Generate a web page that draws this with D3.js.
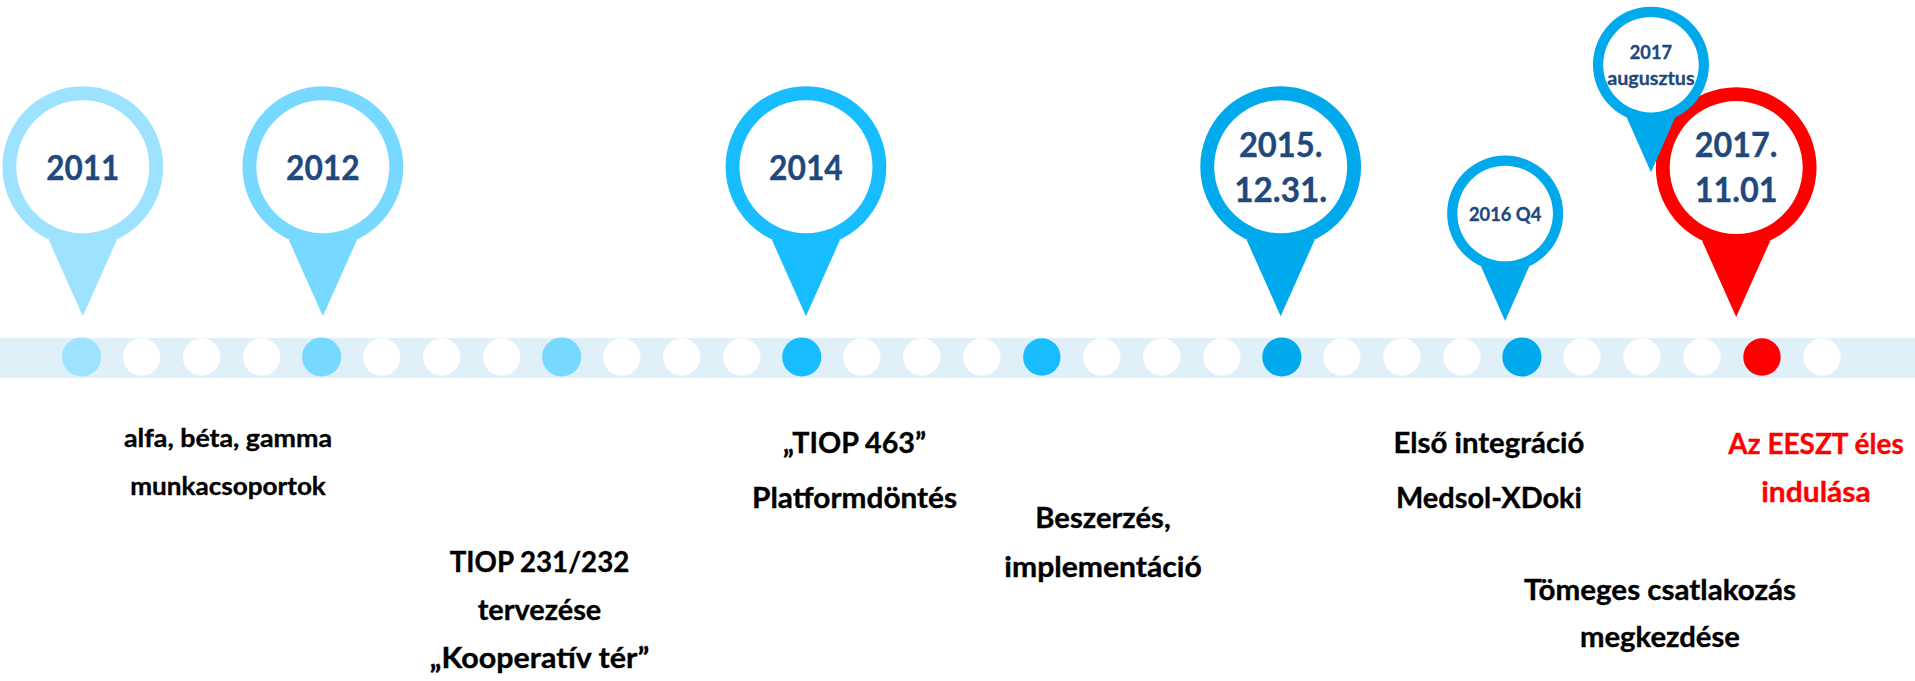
<!DOCTYPE html>
<html lang="hu">

<head>
    <meta charset="UTF-8">
    <title>EESZT timeline</title>
    <style>
        body {
            padding: 0;
            margin: 0;
            background: #fff;
        }

        svg {
            display: block;
        }

        text {
            font-family: Lato, "Noto Sans", sans-serif;
            font-weight: 700;
            text-anchor: middle;
            stroke-width: 0.35px;
            paint-order: stroke;
        }
    </style>
</head>

<body>
    <script src="https://d3js.org/d3.v7.min.js"></script>
    <script>
        const width = 1915
        const height = 681

        // timeline: 30 steps, some of them marked
        const stepCount = 30
        const markedSteps = [0, 4, 8, 12, 16, 20, 24, 28]
        const markedKinds = ['y2011', 'y2012', 'y2012', 'y2014', 'y2014', 'y2015', 'y2015', 'live']

        // pins, in the order they are stacked
        const pinLabels = [['2011'], ['2012'], ['2014'], ['2015.', '12.31.'], ['2016 Q4'], ['2017.', '11.01'], ['2017', 'augusztus']]
        const pinSteps = [0.02, 4.02, 12.07, 19.98, 23.72, 27.57, 26.15]
        const pinKinds = ['y2011', 'y2012', 'y2014', 'y2015', 'y2015', 'live', 'y2015']
        const pinSizes = ['big', 'big', 'big', 'big', 'small', 'big', 'small']

        // texts under the timeline
        const noteLines = [
            ['alfa, béta, gamma', 'munkacsoportok'],
            ['TIOP 231/232', 'tervezése', '„Kooperatív tér”'],
            ['„TIOP 463”', 'Platformdöntés'],
            ['Beszerzés,', 'implementáció'],
            ['Első integráció', 'Medsol-XDoki'],
            ['Tömeges csatlakozás', 'megkezdése'],
            ['Az EESZT éles', 'indulása']
        ]
        const noteSteps = [2.44, 7.63, 12.88, 17.02, 23.45, 26.3, 28.9]
        const noteKinds = ['plain', 'plain', 'plain', 'plain', 'plain', 'plain', 'live']

        const colors = {
            y2011: '#9DE3FF',
            y2012: '#77D9FF',
            y2014: '#17BDFF',
            y2015: '#00A9EC',
            live: '#FF0000',
            plain: '#000000'
        }
        const labelColor = '#1F497D'

        const x = d3.scaleLinear().domain([0, stepCount - 1]).range([81.6, 1822])
        const bandY = 338
        const bandH = 40
        const dotY = 357

        const sizes = {
            big: { R: 80.4, r: 66.5, neck: 73.3, tail: 149.5, half: 34 },
            small: { R: 58, r: 47.8, neck: 52.3, tail: 107.5, half: 24.4 }
        }
        // pin layout, same order as pinLabels
        const pinY = [166.7, 166.7, 166.7, 166.7, 213.5, 167.6, 64.7]
        const pinFont = [33.5, 33.5, 33.5, 33.5, 19.5, 33.5, 19.5]
        const pinBase = [
            [180], [180], [180], [156.7, 201.7], [221], [157.3, 202.3], [59.3, 85]
        ]
        const pinWidths = [
            [73], [73.5], [73.7], [83.5, 93], [72.3], [82.7, 83], [42.3, 87.3]
        ]

        // note layout, same order as noteLines
        const noteFont = [24.5, 28, 28, 28, 28, 28, 28]
        const noteBase = [
            [446.7, 495], [571.7, 620, 668.3], [452.7, 508.3], [528, 576.7],
            [452.7, 508], [600, 647], [454, 502.3]
        ]
        const noteWidths = [
            [208, 195.6], [179.5, 123.5, 219.4], [143, 205], [135.4, 197.5],
            [191, 186], [272, 160], [175.4, 109.5]
        ]

        const svg = d3.select('body').append('svg')
            .attr('width', width)
            .attr('height', height)

        svg.append('rect')
            .attr('x', 0).attr('y', bandY)
            .attr('width', width).attr('height', bandH)
            .attr('fill', '#DFF0F8')

        svg.append('g').selectAll('circle')
            .data(d3.range(stepCount))
            .join('circle')
            .attr('cx', d => x(d))
            .attr('cy', dotY)
            .attr('r', d => markedSteps.includes(d) && d !== 16 && d !== 28 ? 19.6 : 18.7)
            .attr('fill', d => {
                const i = markedSteps.indexOf(d)
                return i < 0 ? '#fff' : colors[markedKinds[i]]
            })

        const line = d3.line()

        function addLines(sel) {
            sel.each(function (d) {
                d3.select(this).selectAll('text')
                    .data(d.lines)
                    .join('text')
                    .attr('x', d.cx)
                    .attr('y', (t, i) => d.base[i])
                    .attr('font-size', d.font)
                    .attr('textLength', (t, i) => d.widths[i])
                    .attr('lengthAdjust', 'spacingAndGlyphs')
                    .attr('fill', d.textColor)
                    .attr('stroke', d.textColor)
                    .text(t => t)
            })
        }

        const pins = svg.append('g').selectAll('g')
            .data(pinLabels.map((lines, i) => ({
                lines,
                cx: x(pinSteps[i]),
                cy: pinY[i],
                color: colors[pinKinds[i]],
                textColor: labelColor,
                size: sizes[pinSizes[i]],
                font: pinFont[i],
                base: pinBase[i],
                widths: pinWidths[i]
            })))
            .join('g')

        pins.append('circle')
            .attr('cx', d => d.cx).attr('cy', d => d.cy).attr('r', d => d.size.R)
            .attr('fill', d => d.color)

        pins.append('path')
            .attr('d', d => line([
                [d.cx - d.size.half, d.cy + d.size.neck],
                [d.cx + d.size.half, d.cy + d.size.neck],
                [d.cx, d.cy + d.size.tail]
            ]) + 'Z')
            .attr('fill', d => d.color)

        pins.append('circle')
            .attr('cx', d => d.cx).attr('cy', d => d.cy).attr('r', d => d.size.r)
            .attr('fill', '#fff')

        pins.call(addLines)

        svg.append('g').selectAll('g')
            .data(noteLines.map((lines, i) => ({
                lines,
                cx: x(noteSteps[i]),
                textColor: colors[noteKinds[i]],
                font: noteFont[i],
                base: noteBase[i],
                widths: noteWidths[i]
            })))
            .join('g')
            .call(addLines)
    </script>
</body>

</html>
